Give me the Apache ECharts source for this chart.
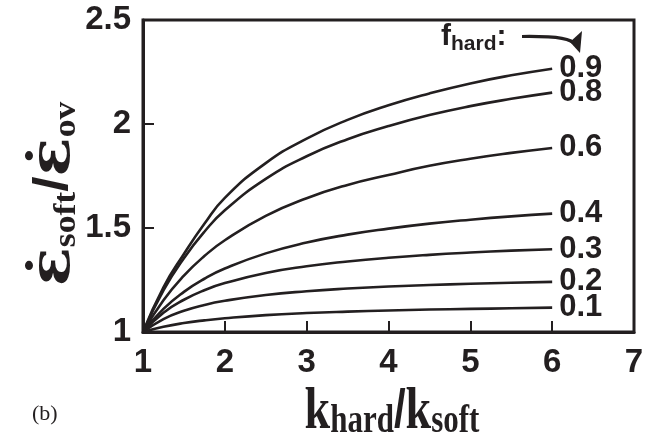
<!DOCTYPE html>
<html>
<head>
<meta charset="utf-8">
<script src="https://cdn.jsdelivr.net/npm/echarts@6/dist/echarts.min.js"></script>
<style>
html,body{margin:0;padding:0;background:#fff;}
#chart{width:657px;height:438px;}
</style>
</head>
<body>
<div id="chart"></div>
<script>
// x: k_hard / k_soft
const kValues = [1, 1.25, 1.5, 1.75, 2, 2.5, 3, 3.5, 4, 4.5, 5, 5.5, 6];
// curve labels (f_hard)
const fHard = ['0.9', '0.8', '0.6', '0.4', '0.3', '0.2', '0.1'];
// y: strain-rate ratio, one array per f_hard
const f09 = [1, 1.215, 1.375, 1.52, 1.645, 1.812, 1.93, 2.02, 2.09, 2.147, 2.195, 2.234, 2.266];
const f08 = [1, 1.20, 1.355, 1.482, 1.585, 1.736, 1.845, 1.927, 1.99, 2.043, 2.086, 2.121, 2.151];
const f06 = [1, 1.153, 1.271, 1.365, 1.441, 1.558, 1.643, 1.707, 1.755, 1.799, 1.833, 1.861, 1.885];
const f04 = [1, 1.111, 1.193, 1.256, 1.305, 1.378, 1.43, 1.468, 1.497, 1.521, 1.54, 1.556, 1.569];
const f03 = [1, 1.093, 1.155, 1.201, 1.235, 1.284, 1.316, 1.339, 1.357, 1.371, 1.382, 1.391, 1.398];
const f02 = [1, 1.062, 1.102, 1.13, 1.15, 1.178, 1.196, 1.209, 1.219, 1.226, 1.232, 1.237, 1.241];
const f01 = [1, 1.025, 1.043, 1.056, 1.066, 1.081, 1.091, 1.098, 1.1035, 1.108, 1.111, 1.114, 1.117];
const curves = [f09, f08, f06, f04, f03, f02, f01];
// tick labels
const xTicks = [1, 2, 3, 4, 5, 6, 7];
const yTicks = [1, 1.5, 2, 2.5];

const INK = '#231f20';
const SANS = '"Liberation Sans", Arial, Helvetica, sans-serif';
const SERIF = '"Liberation Serif", "Times New Roman", serif';
const DSERIF = '"DejaVu Serif", "Liberation Serif", serif';

const chart = echarts.init(document.getElementById('chart'), null, {renderer: 'canvas'});

const series = curves.map((vals, i) => ({
  name: fHard[i],
  type: 'line',
  data: kValues.map((k, j) => [k, vals[j]]),
  smooth: 0.5,
  showSymbol: false,
  symbol: 'none',
  lineStyle: {color: INK, width: 2.6},
  endLabel: {
    show: true,
    formatter: '{a}',
    color: INK,
    fontFamily: SANS,
    fontWeight: 'bold',
    fontSize: 31,
    distance: 7
  },
  emphasis: {disabled: true},
  animation: false
}));

chart.setOption({
  animation: false,
  grid: {
    left: 143, top: 20, right: 23, bottom: 106,
    show: true, borderColor: INK, borderWidth: 3, backgroundColor: 'transparent'
  },
  xAxis: {
    type: 'value',
    min: xTicks[0], max: xTicks[xTicks.length - 1], interval: 1,
    axisLine: {show: true, lineStyle: {color: INK, width: 3}},
    axisTick: {show: true, inside: true, length: 11, lineStyle: {color: INK, width: 2}},
    splitLine: {show: false},
    axisLabel: {
      color: INK, fontFamily: SANS, fontWeight: 'bold', fontSize: 33, margin: 14,
      formatter: v => String(v)
    }
  },
  yAxis: {
    type: 'value',
    min: yTicks[0], max: yTicks[yTicks.length - 1], interval: 0.5,
    axisLine: {show: true, lineStyle: {color: INK, width: 3}},
    axisTick: {show: true, inside: true, length: 11, lineStyle: {color: INK, width: 2}},
    splitLine: {show: false},
    axisLabel: {
      color: INK, fontFamily: SANS, fontWeight: 'bold', fontSize: 33, margin: 12,
      formatter: v => String(v)
    }
  },
  graphic: [
    // x-axis title
    {
      type: 'text', x: 392, y: 383, scaleY: 1.28,
      style: {
        text: '{k|k}{sub|hard}{sl|/}{k|k}{sub|soft}',
        align: 'center', verticalAlign: 'top', fill: INK,
        rich: {
          k: {fontFamily: SERIF, fontWeight: 'bold', fontSize: 46, lineHeight: 46, fill: INK},
          sub: {fontFamily: SERIF, fontWeight: 'bold', fontSize: 31, lineHeight: 24, verticalAlign: 'bottom', fill: INK},
          sl: {fontFamily: SANS, fontWeight: 'bold', fontSize: 42, lineHeight: 46, fill: INK}
        }
      }
    },
    // y-axis title (rotated)
    {
      type: 'text', x: 82, y: 194, rotation: Math.PI / 2, scaleX: 1.15,
      style: {
        text: '{e|ε\u0307}{sub|soft}{sl|/}{e|ε\u0307}{sub|ov}',
        align: 'center', verticalAlign: 'bottom', fill: INK,
        rich: {
          e: {fontFamily: DSERIF, fontWeight: 'bold', fontSize: 56, lineHeight: 56, fill: INK},
          sub: {fontFamily: SERIF, fontWeight: 'bold', fontSize: 31, lineHeight: 24, verticalAlign: 'bottom', fill: INK},
          sl: {fontFamily: SANS, fontWeight: 'bold', fontSize: 48, lineHeight: 56, fill: INK}
        }
      }
    },
    {
      type: 'text', left: 32, top: 403,
      style: {text: '(b)', font: '22px ' + SERIF, fill: INK}
    },
    {
      type: 'text', left: 441, top: 22,
      style: {
        text: '{f|f}{h|hard}{c|:}',
        fill: INK,
        rich: {
          f: {fontFamily: SANS, fontWeight: 'bold', fontSize: 30, lineHeight: 36, fill: INK},
          h: {fontFamily: SANS, fontWeight: 'bold', fontSize: 21, lineHeight: 18, verticalAlign: 'bottom', fill: INK},
          c: {fontFamily: SANS, fontWeight: 'bold', fontSize: 30, lineHeight: 36, fill: INK}
        }
      }
    },
    {
      type: 'bezierCurve',
      shape: {x1: 522, y1: 36.5, cpx1: 560, cpy1: 36, cpx2: 572, cpy2: 39, x2: 576, y2: 45},
      style: {stroke: INK, lineWidth: 3.2, fill: null}
    },
    {
      type: 'polygon',
      shape: {points: [[570, 42], [582, 31], [580, 53]]},
      style: {fill: INK}
    }
  ],
  series: series
});
</script>
</body>
</html>
